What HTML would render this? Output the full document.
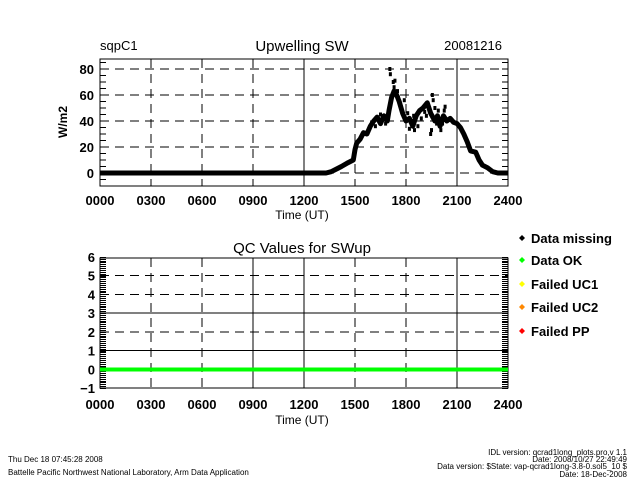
<!DOCTYPE html>
<html><head><meta charset="utf-8"><style>
html,body{margin:0;padding:0;background:#fff;}
svg{display:block;font-family:"Liberation Sans",sans-serif;}
</style></head><body>
<svg id="s" width="640" height="480" xmlns="http://www.w3.org/2000/svg">
<rect width="640" height="480" fill="#fff"/>
<g id="g" fill="none" stroke="#000" stroke-width="1" shape-rendering="crispEdges"></g>
<g id="d"></g>
<g font-size="13" fill="#000">
<text x="100" y="50">sqpC1</text>
<text x="302" y="51" text-anchor="middle" font-size="15">Upwelling  SW</text>
<text x="502" y="50" text-anchor="end">20081216</text>
<text transform="translate(67,122) rotate(-90)" text-anchor="middle" font-size="12" font-weight="bold">W/m2</text>
<text x="302" y="219" text-anchor="middle" font-size="12">Time  (UT)</text>
<text x="302" y="253" text-anchor="middle" font-size="15">QC Values for SWup</text>
<text x="302" y="424" text-anchor="middle" font-size="12">Time  (UT)</text>
</g>
<g font-size="13" fill="#000" font-weight="bold">
<text x="531" y="243">Data missing</text>
<text x="531" y="265">Data OK</text>
<text x="531" y="289">Failed UC1</text>
<text x="531" y="312">Failed UC2</text>
<text x="531" y="336">Failed PP</text>
</g>
<g>
<path d="M522,235 l3,3 -3,3 -3,-3z" fill="#000"/>
<path d="M522,257 l3,3 -3,3 -3,-3z" fill="#0f0"/>
<path d="M522,281 l3,3 -3,3 -3,-3z" fill="#ff0"/>
<path d="M522,304 l3,3 -3,3 -3,-3z" fill="#f80"/>
<path d="M522,328 l3,3 -3,3 -3,-3z" fill="#f00"/>
</g>
<g font-size="8" fill="#000">
<text x="8" y="462">Thu Dec 18 07:45:28 2008</text>
<text x="8" y="475">Battelle Pacific Northwest National Laboratory, Arm Data Application</text>
<text x="627" y="455" text-anchor="end">IDL version: qcrad1long_plots.pro,v 1.1</text>
<text x="627" y="462" text-anchor="end">Date: 2008/10/27 22:49:49</text>
<text x="627" y="469" text-anchor="end">Data version: $State: vap-qcrad1long-3.8-0.sol5_10 $</text>
<text x="627" y="477" text-anchor="end">Date: 18-Dec-2008</text>
</g>
<g id="t" font-size="13" fill="#000" font-weight="bold"></g>
</svg>
<script>
var NS="http://www.w3.org/2000/svg",g=document.getElementById('g'),d=document.getElementById('d'),t=document.getElementById('t');
function el(p,tag,a,txt){var e=document.createElementNS(NS,tag);for(var k in a)e.setAttribute(k,a[k]);if(txt!=null)e.textContent=txt;p.appendChild(e);return e;}
function line(x1,y1,x2,y2,dash,w,c){el(g,'line',{x1:x1,y1:y1,x2:x2,y2:y2,'stroke-dasharray':dash||'none','stroke-width':w||1,stroke:c||'#000'});}
var L=100,R=508,hx=17;
var labs=['0000','0300','0600','0900','1200','1500','1800','2100','2400'];
var T1=59,B1=186;function y1(v){return 173-1.3*v;}
el(g,'rect',{x:L,y:T1,width:R-L,height:B1-T1});
for(var i=1;i<8;i++){var x=L+i*51;line(x,T1,x,B1,(i==4||i==7)?'none':'9,6');}
[0,20,40,60,80].forEach(function(v){line(L,y1(v),R,y1(v),'9,6');el(t,'text',{x:L-6,y:y1(v)+5,'text-anchor':'end'},String(v));});
for(var v=-10;v<=85;v+=5){line(L,y1(v),L+6,y1(v));line(R-6,y1(v),R,y1(v));}
for(var i=0;i<9;i++)el(t,'text',{x:L+i*51,y:205,'text-anchor':'middle'},labs[i]);
var T2=258,B2=388;function y2(v){return 369.3-18.75*v;}
el(g,'rect',{x:L,y:T2,width:R-L,height:B2-T2});
for(var i=1;i<8;i++){var x=L+i*51;line(x,T2,x,B2,(i==3||i==4||i==7)?'none':'9,6');}
[1,2,3,4,5].forEach(function(v){line(L,y2(v),R,y2(v),(v==1||v==3)?'none':'9,6');});
[-1,0,1,2,3,4,5,6].forEach(function(v){el(t,'text',{x:L-5,y:y2(v)+5,'text-anchor':'end'},v<0?'\u22121':String(v));});
for(var v=-1;v<=6.001;v+=0.1){var yy=Math.round(y2(v))+0.5;line(L,yy,L+6,yy);line(R-6,yy,R,yy);}
for(var i=0;i<9;i++)el(t,'text',{x:L+i*51,y:409,'text-anchor':'middle'},labs[i]);
line(L,y2(0),R,y2(0),'none',4,'#0f0');
var pts=[[0,0],[13.3,0],[13.6,1],[13.9,3],[14.2,5],[14.6,8],[14.9,10],[15.0,18],[15.1,23],[15.3,26],[15.5,31],[15.7,30],[15.9,36],[16.1,40],[16.3,43],[16.5,38],[16.7,44],[16.9,40],[17.0,48],[17.15,58],[17.3,63],[17.45,60],[17.6,55],[17.8,46],[18.0,40],[18.2,42],[18.4,36],[18.6,44],[18.8,48],[19.0,50],[19.25,54],[19.45,46],[19.7,40],[19.85,44],[20.0,36],[20.2,44],[20.4,40],[20.6,42],[20.8,39],[21.0,38],[21.2,35],[21.4,30],[21.6,24],[21.8,17],[22.1,16],[22.3,10],[22.5,6],[22.8,4],[23.1,1],[23.4,0],[24,0]];
el(d,'polyline',{points:pts.map(function(p){return (L+hx*p[0])+','+y1(p[1]);}).join(' '),fill:'none',stroke:'#000','stroke-width':5,'stroke-linejoin':'round'});
var sc=[[17.05,80],[17.08,76],[17.25,70],[17.35,71],[17.3,66],[17.5,63],[17.55,58],[17.9,56],[18.2,34],[18.35,38],[18.5,33],[18.7,36],[19.55,60],[19.6,56],[19.5,33],[19.45,30],[19.7,50],[19.9,48],[20.05,33],[20.25,48],[20.3,51],[19.2,44],[18.9,42],[17.75,48],[16.8,38],[16.5,45],[18.1,46],[18.45,44],[19.1,47],[19.8,38],[20.15,38],[16.2,36],[15.8,33]];
sc.forEach(function(p){el(d,'rect',{x:L+hx*p[0]-1.5,y:y1(p[1])-2,width:3,height:4,fill:'#000'});});
</script>
</body></html>
